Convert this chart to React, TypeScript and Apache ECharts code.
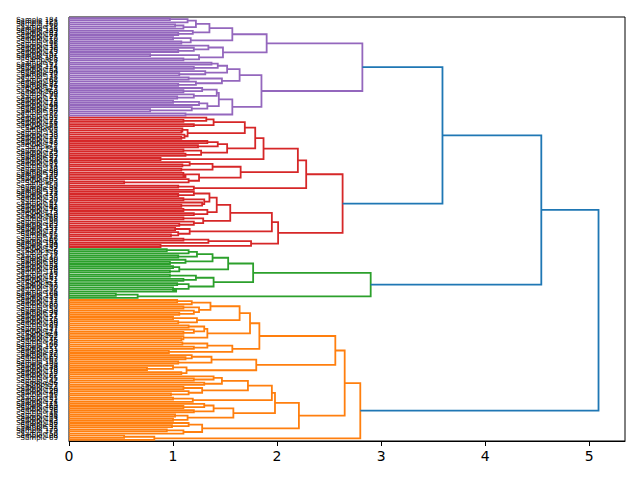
import { useEffect, useRef } from "react";
import * as echarts from "echarts";

// Leaf marker; nodes are [mergeHeight, upperChild, lowerChild]
const L = 0;
type Node = number | [number, Node, Node];

const purpleTree: Node = [2.82,
  [1.90,
    [1.57,
      [1.35,
        [1.22, [1.14, [0.97, L, L], L], [1.10, [1.02, L, L], L]],
        [1.19, L, [1.05, L, L]]],
      [1.17, [1.00, L, L], [1.08, L, L]]],
    [1.48,
      [1.34, L, [1.20, L, [1.05, L, L]]],
      [1.25, [0.78, L, L], [1.10, L, L]]]],
  [1.85,
    [1.64,
      [1.52, [1.43, [1.37, L, L], [1.20, L, L]], [1.31, L, [1.06, L, L]]],
      [1.47, [1.15, L, L], [1.22, L, [1.05, L, L]]]],
    [1.57,
      [1.44,
        [1.42, [1.28, L, [1.10, L, L]], [1.20, L, [1.04, L, L]]],
        [1.33, [1.25, [1.00, L, L], L], [1.18, L, [0.78, L, L]]]],
      [1.12, L, L]]]];

const redTree: Node = [2.63,
  [2.28,
    [2.20,
      [1.87,
        [1.79,
          [1.69,
            [1.39, [1.32, L, [1.10, L, L]], [1.20, L, L]],
            [1.14, [1.09, L, [1.08, L, L]], [1.11, L, [1.08, L, L]]]],
          [1.52,
            [1.43, [1.33, L, L], [1.24, L, L]],
            [1.27, [1.10, L, L], [1.12, L, L]]]],
        [0.88, L, L]],
      [1.65,
        [1.38, [1.16, L, [1.09, L, L]], [1.08, L, L]],
        [1.25, [1.10, L, [1.12, L, L]], [1.15, L, [0.53, L, L]]]]],
    [1.20, [1.05, L, L], L]],
  [2.01,
    [1.95,
      [1.55,
        [1.42,
          [1.35, [1.20, L, [1.05, L, L]], [1.30, [1.10, L, L], [1.28, L, [1.08, L, L]]]],
          [1.33, [1.10, L, L], [1.20, L, L]]],
        [1.29, [1.10, L, L], [1.20, L, [1.06, L, L]]]],
      [1.16, [1.02, L, L], [1.05, L, [0.98, L, L]]]],
    [1.75, [1.34, [1.10, L, L], L], [0.88, L, L]]]];

const greenTree: Node = [2.90,
  [1.77,
    [1.53,
      [1.38, [1.23, [1.15, [0.94, L, L], L], [1.05, L, L]], [1.12, L, [0.97, L, L]]],
      [1.06, [1.00, L, L], [0.97, L, L]]],
    [1.39,
      [1.22, [0.97, L, L], [1.10, L, L]],
      [1.15, [1.04, L, L], [1.00, L, [1.03, L, L]]]]],
  [0.66, [0.45, L, L], L]];

const orangeTree: Node = [2.80,
  [2.65,
    [2.56,
      [1.83,
        [1.74,
          [1.64,
            [1.36, [1.18, [1.04, L, L], L], [1.25, [1.10, L, L], [1.20, L, [1.06, L, L]]]],
            [1.23, [1.00, L, L], [1.05, L, L]]],
          [1.33, [1.30, [1.15, L, L], [1.20, L, [1.10, L, L]]], [1.10, L, [1.08, L, L]]]],
        [1.57, [1.33, [1.09, L, L], [1.20, L, L]], [0.96, L, L]]],
      [1.80,
        [1.37, [1.18, L, [1.12, L, L]], [1.05, L, L]],
        [1.13, [1.00, L, [0.75, L, L]], [1.08, L, L]]]],
    [2.21,
      [1.98,
        [1.95,
          [1.72, [1.47, [1.39, L, [1.20, L, L]], [1.30, L, L]], [1.28, [1.10, L, L], [1.15, L, [0.98, L, L]]]],
          [1.19, [1.00, L, L], L]],
        [1.58,
          [1.39, [1.30, L, [1.10, L, L]], [1.20, L, L]],
          [1.14, [1.02, L, L], [1.00, L, L]]]],
      [1.28, [1.15, L, [0.99, L, L]], [1.10, [0.94, L, L], L]]]],
  [0.82, [0.53, L, L], L]];

// merges above the colour threshold: (purple+red), (+green), (+orange)
const upperHeights = [3.59, 4.54, 5.09];
const clusterColors = ["#9467bd", "#d62728", "#2ca02c", "#ff7f0e"];
const aboveColor = "#1f77b4";

// leaf labels, top to bottom
const leafIds = [
  149, 184, 121, 160, 38, 115, 189, 93, 164, 27,
  110, 58, 196, 11, 130, 76, 143, 52, 101, 185,
  8, 67, 172, 124, 35, 154, 90, 17, 138, 62,
  199, 81, 46, 117, 3, 168, 99, 29, 151, 73,
  126, 44, 190, 13, 86, 137, 59,
  105, 21, 176, 64, 141, 9, 95, 158, 33, 120,
  71, 187, 48, 112, 2, 134, 79, 163, 25, 97,
  144, 56, 181, 14, 128, 88, 39, 170, 107, 65,
  193, 5, 150, 84, 31, 119, 174, 53, 135, 20,
  92, 161, 42, 198, 75, 113, 0, 146, 68, 180,
  23, 102, 157, 37, 127, 85, 15, 166, 61, 194,
  109, 49,
  132, 6, 178, 77, 140, 30, 98, 155, 54, 188,
  19, 116, 83, 167, 41, 122, 1, 147, 70, 192, 26, 104, 159, 45,
  131, 12, 183, 80, 153, 36, 94, 171, 57, 125,
  18, 139, 89, 197, 47, 114, 4, 162, 72, 145,
  28, 106, 177, 51, 133, 87, 10, 165, 63, 191,
  100, 34, 148, 78, 118, 22, 182, 55, 142, 96,
  7, 173, 66, 129, 40, 195, 91, 152, 24, 111,
  169, 60, 136, 16, 186, 74, 103, 43, 156, 82,
  32, 123, 179, 50, 108, 69, 175,
];

const xTicks = [0, 1, 2, 3, 4, 5];

type Seg = { coords: number[][]; color: string };

function buildLinks() {
  const n = leafIds.length;
  let j = 0;
  const segs: Seg[] = [];
  const leafPos: number[] = [];
  const link = (h: number, A: { pos: number; h: number }, B: { pos: number; h: number }, color: string) => {
    segs.push({ coords: [[A.h, A.pos], [h, A.pos], [h, B.pos], [B.h, B.pos]], color });
    return { pos: (A.pos + B.pos) / 2, h };
  };
  const walk = (node: Node, color: string): { pos: number; h: number } => {
    if (!Array.isArray(node)) {
      const pos = 10 * (n - 1 - j) + 5;
      leafPos.push(pos);
      j++;
      return { pos, h: 0 };
    }
    const [h, a, b] = node;
    const A = walk(a, color);
    const B = walk(b, color);
    return link(h, A, B, color);
  };
  const P = walk(purpleTree, clusterColors[0]);
  const R = walk(redTree, clusterColors[1]);
  const PR = link(upperHeights[0], P, R, aboveColor);
  const G = walk(greenTree, clusterColors[2]);
  const PRG = link(upperHeights[1], PR, G, aboveColor);
  const O = walk(orangeTree, clusterColors[3]);
  link(upperHeights[2], PRG, O, aboveColor);
  return { segs, leafPos, n };
}

export default function App() {
  const ref = useRef<HTMLDivElement>(null);
  useEffect(() => {
    if (!ref.current) return;
    const chart = echarts.init(ref.current, undefined, { renderer: "svg" });
    const { segs, leafPos, n } = buildLinks();
    const maxH = upperHeights[upperHeights.length - 1] * 1.05;
    chart.setOption({
      animation: false,
      backgroundColor: "#ffffff",
      grid: {
        left: 69, right: 15, top: 17, bottom: 39,
        show: true, borderColor: "#000000", borderWidth: 1,
      },
      xAxis: {
        type: "value", min: 0, max: maxH,
        splitLine: { show: false },
        axisLine: { show: true, lineStyle: { color: "#000000", width: 1 } },
        axisTick: { show: true, customValues: xTicks, length: 5, lineStyle: { color: "#000000", width: 1 } },
        axisLabel: {
          customValues: xTicks, fontSize: 14, color: "#000000", margin: 8,
          fontFamily: "DejaVu Sans",
        },
      },
      yAxis: {
        type: "value", min: 0, max: 10 * n,
        splitLine: { show: false },
        axisLine: { show: false },
        axisTick: { show: false },
        axisLabel: {
          customValues: leafPos, fontSize: 7, color: "#000000", margin: 11,
          fontFamily: "DejaVu Sans",
          formatter: (v: number) => {
            const idx = Math.round(n - 1 - (v - 5) / 10);
            return "Sample " + leafIds[idx];
          },
        },
      },
      series: [
        {
          type: "lines",
          coordinateSystem: "cartesian2d",
          polyline: true,
          silent: true,
          lineStyle: { width: 1.8, opacity: 1 },
          data: segs.map((s) => ({ coords: s.coords, lineStyle: { color: s.color, width: 1.8 } })),
        },
      ],
    });
    return () => chart.dispose();
  }, []);
  return <div ref={ref} style={{ position: "fixed", left: 0, top: 0, width: 640, height: 480 }} />;
}
